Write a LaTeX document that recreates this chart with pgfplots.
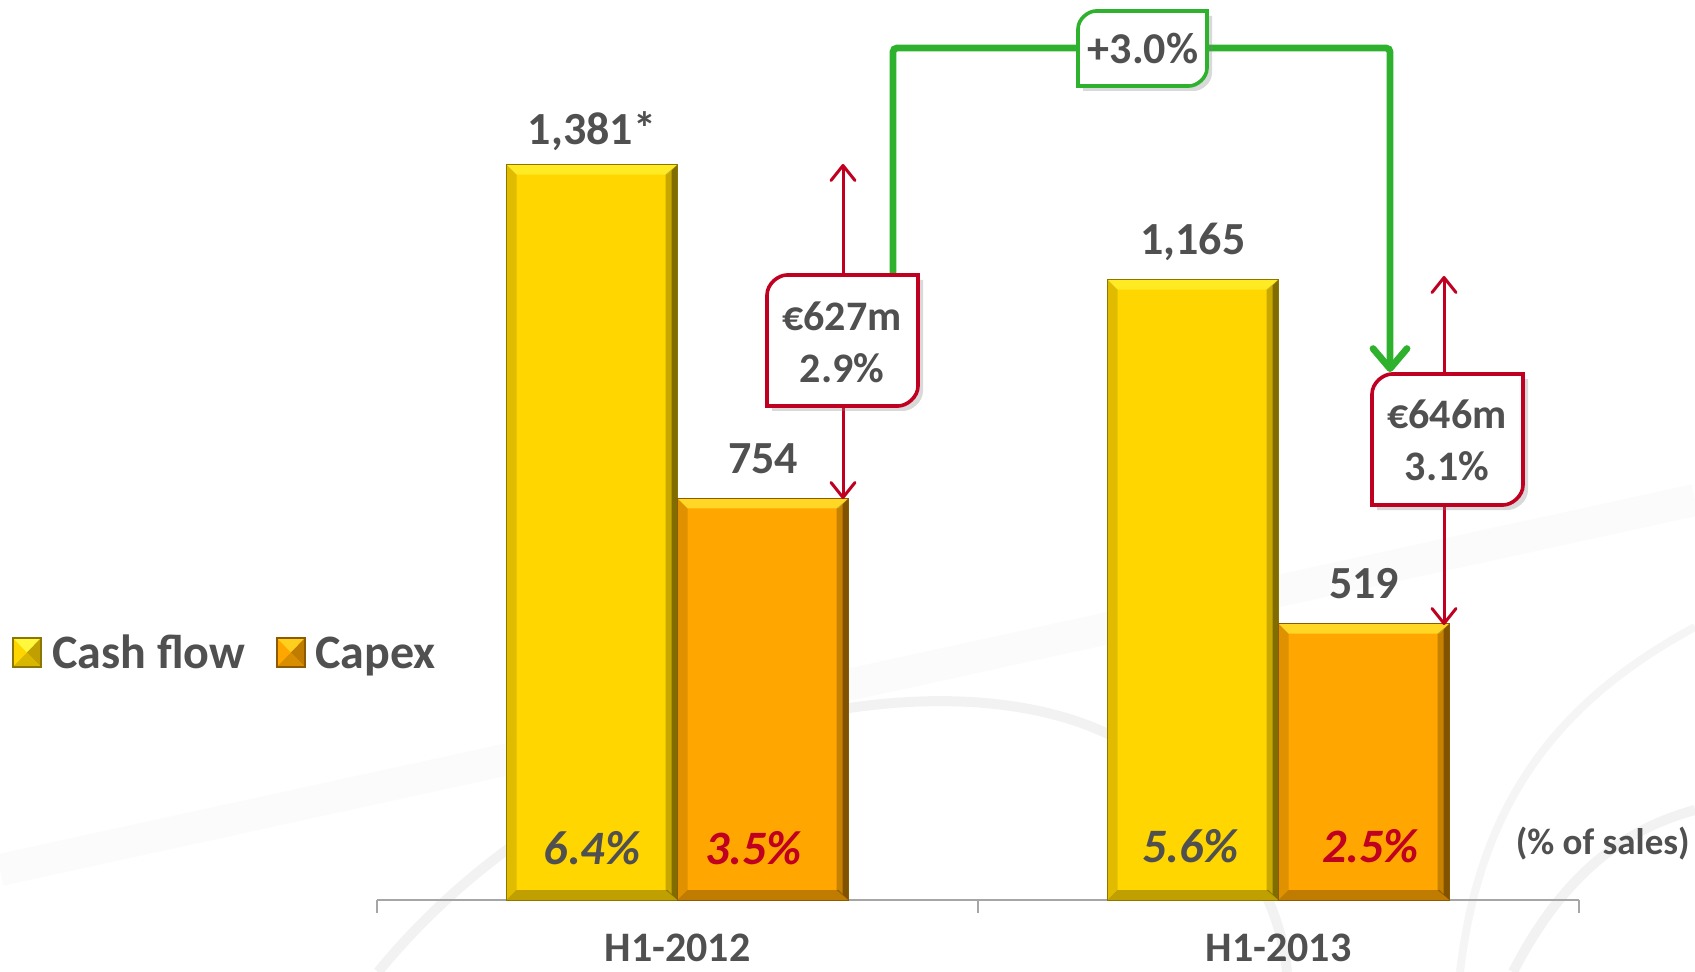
\documentclass[border=0pt]{standalone}
\usepackage{pgfplots}
\pgfplotsset{compat=1.18}
\usepackage{fontspec}
\setmainfont{Carlito}
\usetikzlibrary{arrows.meta,shadows}
\definecolor{cfY}{RGB}{255,214,0}
\definecolor{cpO}{RGB}{255,166,0}
\definecolor{txt}{RGB}{80,80,80}
\definecolor{rd}{RGB}{192,0,32}
\definecolor{gr}{RGB}{46,178,46}
\definecolor{hiY}{RGB}{255,248,60}
\newcommand\fs[2]{\fontsize{#1}{#2}\selectfont}
\def\ppb#1{\pgfpointanchor{path picture bounding box}{#1}}
\def\ppbo#1#2#3{\pgfpointadd{\pgfpointanchor{path picture bounding box}{#1}}{\pgfpoint{#2}{#3}}}
\def\bevelface#1#2#3#4#5#6{% color, opacity, 4 points
  \begin{pgfscope}\pgfsetfillcolor{#1}\pgfsetfillopacity{#2}%
  \pgfpathmoveto{#3}\pgfpathlineto{#4}\pgfpathlineto{#5}\pgfpathlineto{#6}\pgfpathclose\pgfusepath{fill}\end{pgfscope}}
\tikzset{bevel/.style={path picture={%
  \bevelface{hiY}{0.6}{\ppb{north west}}{\ppb{north east}}{\ppbo{north east}{-5pt}{-5pt}}{\ppbo{north west}{5pt}{-5pt}}%
  \bevelface{black}{0.22}{\ppb{north east}}{\ppb{south east}}{\ppbo{south east}{-6pt}{5pt}}{\ppbo{north east}{-6pt}{-5pt}}%
  \bevelface{black}{0.35}{\ppb{north east}}{\ppb{south east}}{\ppbo{south east}{-3pt}{3pt}}{\ppbo{north east}{-3pt}{-3pt}}%
  \bevelface{black}{0.25}{\ppb{south west}}{\ppb{south east}}{\ppbo{south east}{-5pt}{5pt}}{\ppbo{south west}{5pt}{5pt}}%
  \bevelface{black}{0.12}{\ppb{north west}}{\ppb{south west}}{\ppbo{south west}{5pt}{5pt}}{\ppbo{north west}{5pt}{-5pt}}%
}}}
\begin{document}
\begin{tikzpicture}
\path[use as bounding box] (0,0) rectangle (847.5pt,-486pt);
% faint watermark
\begin{scope}[x=0.5pt,y=-0.5pt]
\draw[black!1.5, line width=16pt] (0,870) -- (1695,500);
\draw[black!5, line width=5pt] (378,972) .. controls (600,700) and (1000,640) .. (1150,760) .. controls (1240,830) and (1280,900) .. (1287,972);
\draw[black!5, line width=5pt] (1513,972) .. controls (1560,880) and (1620,830) .. (1695,810);
\draw[black!4, line width=4pt] (1695,627) .. controls (1560,700) and (1480,800) .. (1460,972);
\end{scope}
\begin{axis}[at={(188.5pt,-450pt)}, anchor=south west, scale only axis,
  width=601pt, height=450pt, xmin=-0.5, xmax=1.5, ymin=0, ymax=1690,
  ybar=0pt, bar width=85.5pt, clip=false,
  axis y line=none, axis x line*=bottom,
  x axis line style={draw=gray!70, line width=0.8pt},
  xtick={0,1}, xticklabels={H1-2012,H1-2013}, major tick length=0pt,
  tick align=outside,
  extra x ticks={-0.5,0.5,1.5}, extra x tick labels={},
  extra x tick style={major tick length=6.5pt, tick style={draw=gray!70, line width=0.8pt}},
  xticklabel style={font=\bfseries\fs{21}{24}, text=txt, anchor=north, inner sep=0pt, yshift=-17pt},
]
% Cash flow
\addplot[fill=cfY, draw=cfY!55!black, line width=0.5pt, bevel, bar shift=-42.75pt] coordinates {(0,1381)};
\addplot[fill=cfY, draw=cfY!55!black, line width=0.5pt, bevel, bar shift=-42.75pt] coordinates {(1,1165)};
% Capex
\addplot[fill=cpO, draw=cpO!55!black, line width=0.5pt, bevel, bar shift=42.75pt] coordinates {(0,754)};
\addplot[fill=cpO, draw=cpO!55!black, line width=0.5pt, bevel, bar shift=42.75pt] coordinates {(1,519)};
% value labels
\node[anchor=base, text=txt, font=\bfseries\fs{23}{26}, inner sep=0pt] at ([xshift=-42.75pt,yshift=10pt]axis cs:0,1381) {1,381*};
\node[anchor=base, text=txt, font=\bfseries\fs{23}{26}, inner sep=0pt] at ([xshift=42.75pt,yshift=12.5pt]axis cs:0,754) {754};
\node[anchor=base, text=txt, font=\bfseries\fs{23}{26}, inner sep=0pt] at ([xshift=-42.75pt,yshift=12.5pt]axis cs:1,1165) {1,165};
\node[anchor=base, text=txt, font=\bfseries\fs{23}{26}, inner sep=0pt] at ([xshift=42.75pt,yshift=12.5pt]axis cs:1,519) {519};
% percentages inside
\node[anchor=base, text=txt, font=\bfseries\itshape\fs{24}{26}, inner sep=0pt] at ([xshift=-42.75pt,yshift=18pt]axis cs:0,0) {6.4\%};
\node[anchor=base, text=rd, font=\bfseries\itshape\fs{24}{26}, inner sep=0pt] at ([xshift=38pt,yshift=18pt]axis cs:0,0) {3.5\%};
\node[anchor=base, text=txt, font=\bfseries\itshape\fs{24}{26}, inner sep=0pt] at ([xshift=-44pt,yshift=19pt]axis cs:1,0) {5.6\%};
\node[anchor=base, text=rd, font=\bfseries\itshape\fs{24}{26}, inner sep=0pt] at ([xshift=46pt,yshift=19pt]axis cs:1,0) {2.5\%};
\end{axis}
\begin{scope}[x=0.5pt,y=-0.5pt]
% (% of sales)
\node[anchor=base east, text=txt, font=\bfseries\fs{18.5}{20}, inner sep=0pt] at (1690,854) {(\% of sales)};
% legend
\fill[cfY] (13,638) rectangle (41,667);
\fill[hiY] (13,638) -- (41,638) -- (27,652.5) -- cycle;
\fill[cfY!75!black] (41,638) -- (41,667) -- (27,652.5) -- cycle;
\fill[cfY!85!black] (13,667) -- (41,667) -- (27,652.5) -- cycle;
\draw[cfY!55!black, line width=0.6pt] (13,638) rectangle (41,667);
\fill[cpO] (277,638) rectangle (305,667);
\fill[cpO!50!hiY] (277,638) -- (305,638) -- (291,652.5) -- cycle;
\fill[cpO!75!black] (305,638) -- (305,667) -- (291,652.5) -- cycle;
\fill[cpO!85!black] (277,667) -- (305,667) -- (291,652.5) -- cycle;
\draw[cpO!55!black, line width=0.6pt] (277,638) rectangle (305,667);
\node[anchor=base west, text=txt, font=\bfseries\fs{24}{26}, inner sep=0pt] at (52,668) {Cash flow};
\node[anchor=base west, text=txt, font=\bfseries\fs{24}{26}, inner sep=0pt] at (315,668) {Capex};
% green connector
\draw[gr, line width=3.4pt, rounded corners=2pt, -{Straight Barb[length=10pt,width=17pt,round]}] (893,275) -- (893,48) -- (1390,48) -- (1390,372);
% red arrows
\draw[rd, line width=1.5pt, -{Straight Barb[length=7.5pt,width=12pt,round]}] (843,275) -- (843,164);
\draw[rd, line width=1.5pt, -{Straight Barb[length=7.5pt,width=12pt,round]}] (843,406) -- (843,499);
\draw[rd, line width=1.5pt, -{Straight Barb[length=7.5pt,width=12pt,round]}] (1444,374) -- (1444,276);
\draw[rd, line width=1.5pt, -{Straight Barb[length=7.5pt,width=12pt,round]}] (1444,505) -- (1444,625);
% boxes
\draw[rd, line width=1.8pt, fill=white, drop shadow={shadow xshift=2.5pt,shadow yshift=-2.5pt,opacity=0.3}]
 (767,295) .. controls (767,284) and (778,275) .. (787,275) -- (918,275) -- (918,386) .. controls (918,397) and (907,406) .. (898,406) -- (767,406) -- cycle;
\draw[rd, line width=1.8pt, fill=white, drop shadow={shadow xshift=2.5pt,shadow yshift=-2.5pt,opacity=0.3}]
 (1372,394) .. controls (1372,383) and (1383,374) .. (1392,374) -- (1523,374) -- (1523,485) .. controls (1523,496) and (1512,505) .. (1503,505) -- (1372,505) -- cycle;
\draw[gr, line width=1.8pt, fill=white, drop shadow={shadow xshift=2.5pt,shadow yshift=-2.5pt,opacity=0.3}]
 (1078,29) .. controls (1078,19) and (1088,11) .. (1096,11) -- (1207,11) -- (1207,68) .. controls (1207,78) and (1197,86) .. (1189,86) -- (1078,86) -- cycle;
\node[align=center, text=txt, font=\bfseries\fs{21}{26}] at (842,342) {€627m\\2.9\%};
\node[align=center, text=txt, font=\bfseries\fs{21}{26}] at (1447,440) {€646m\\3.1\%};
\node[text=txt, font=\bfseries\fs{22}{26}] at (1143,49) {+3.0\%};
\end{scope}
\end{tikzpicture}
\end{document}
